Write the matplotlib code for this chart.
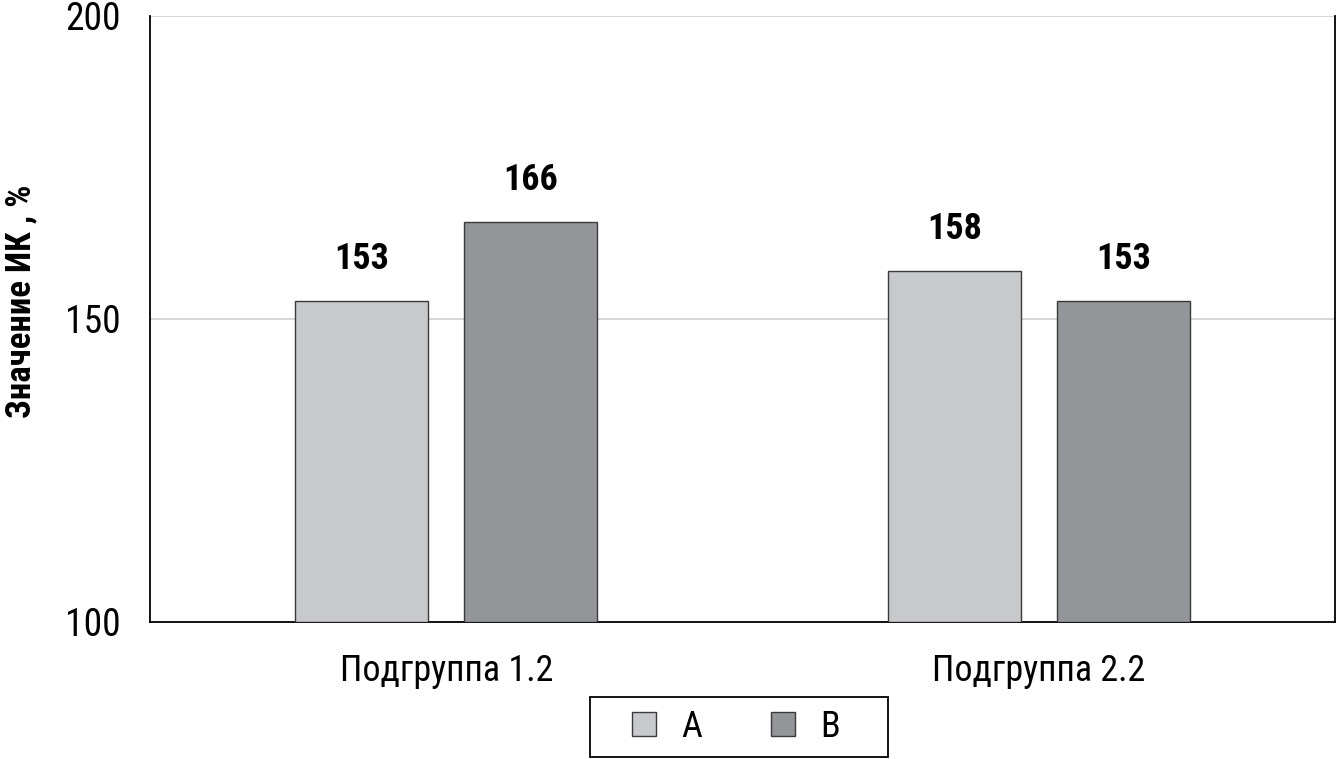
import matplotlib
matplotlib.use("Agg")
import matplotlib.pyplot as plt
import numpy as np
from matplotlib.patches import Patch, Rectangle

categories = ["Подгруппа 1.2", "Подгруппа 2.2"]
series_names = ["A", "B"]
values_a = [153, 158]
values_b = [166, 153]
yticks = [100, 150, 200]

plt.rcParams['font.family'] = ['Roboto Condensed', 'Liberation Sans Narrow', 'DejaVu Sans Condensed', 'DejaVu Sans']

W, H = 1337, 759
fig = plt.figure(figsize=(W/100, H/100), dpi=100)
ax = fig.add_axes([150/W, 1-622/H, 1185/W, (622-16)/H])

x = np.arange(len(categories))
w = 0.225
off = 0.1426
colors = ["#c8c9cb", "#939598"]
for vals, o, c in zip([values_a, values_b], [-off, off], colors):
    ax.bar(x + o, np.array(vals) - 100, w, bottom=100, color=c,
           edgecolor="#3a3a3a", linewidth=1.0, zorder=3)
    for xi, v in zip(x + o, vals):
        ax.text(xi, v + 3.9, str(v), ha="center", va="bottom",
                fontsize=26, fontweight="bold", color="black")

ax.set_xlim(-0.5, 1.5)
ax.set_ylim(100, 200)
ax.set_yticks(yticks)
ax.set_yticklabels([str(t) for t in yticks], fontsize=27)
ax.tick_params(axis="y", length=0, pad=21)
ax.set_xticks(x)
ax.set_xticklabels(categories, fontsize=26)
ax.tick_params(axis="x", length=0, pad=22)
ax.grid(axis="y", color="#d0d0d0", linewidth=1.2, zorder=0)
ax.set_axisbelow(True)
for s in ["left", "right", "bottom"]:
    ax.spines[s].set_color("black")
    ax.spines[s].set_linewidth(1.3)
ax.spines["top"].set_visible(False)

ax.set_ylabel("Значение ИК , %", fontsize=25, fontweight="bold")
ax.yaxis.set_label_coords(-113/1185, 0.53)

handles = [Patch(facecolor=c, edgecolor="#3a3a3a", label=n) for c, n in zip(colors, series_names)]
leg = fig.legend(handles=handles, loc="center", bbox_to_anchor=(736/W, 1-727/H),
                 ncol=2, fontsize=26, frameon=False,
                 handlelength=0.66, handleheight=0.66, columnspacing=1.9, handletextpad=0.7,
                 borderpad=0.2, borderaxespad=0)
fig.patches.append(Rectangle((590/W, 1-757/H), 298/W, 60/H, transform=fig.transFigure,
                             fill=False, edgecolor="black", linewidth=1.3))

fig.savefig("out.png", dpi=100)
